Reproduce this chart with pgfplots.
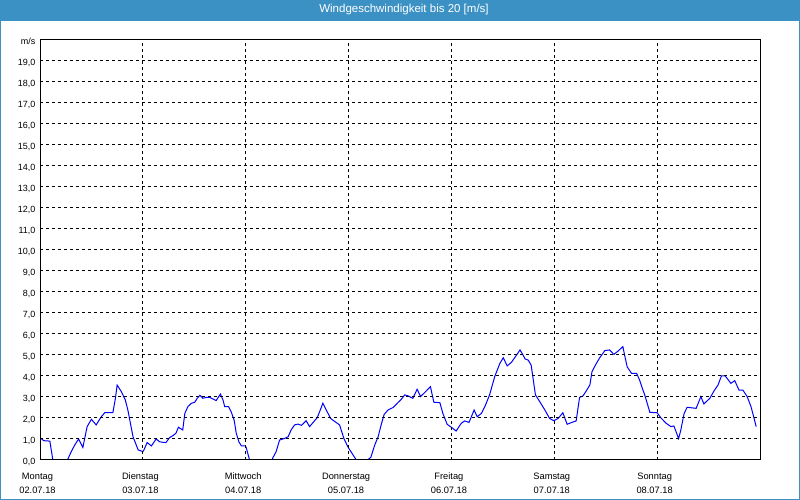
\documentclass[border=0pt]{standalone}
\usepackage{fontspec}
\setmainfont{Liberation Sans}
\usepackage{pgfplots}
\pgfplotsset{compat=1.18}
\definecolor{barblue}{RGB}{59,145,196}
\definecolor{windblue}{RGB}{0,0,255}

\begin{document}
\begin{tikzpicture}
\fill[white] (0,0) rectangle (800pt,500pt);
\fill[barblue] (0,479pt) rectangle (800pt,500pt);
\draw[barblue, line width=1pt] (0.5pt,500pt) -- (0.5pt,0.5pt) -- (799.5pt,0.5pt) -- (799.5pt,500pt);
\node[white, font=\fontsize{11.5}{13}\selectfont] at (404pt,490pt) {Windgeschwindigkeit bis 20 [m/s]};
\begin{axis}[
    at={(40pt,40pt)}, anchor=south west,
    width=720pt, height=420pt, scale only axis,
    xmin=0, xmax=168, ymin=0, ymax=20,
    axis on top,
    axis line style={black, line width=1pt},
    major tick length=0pt,
    xtick={0,24,...,144},
    xticklabels={{Montag\\02.07.18},{Dienstag\\03.07.18},{Mittwoch\\04.07.18},
      {Donnerstag\\05.07.18},{Freitag\\06.07.18},{Samstag\\07.07.18},{Sonntag\\08.07.18}},
    xticklabel style={align=center, font=\fontsize{9.3}{14}\selectfont, xshift=-2.5pt, yshift=-9.5pt},
    ytick={0,1,...,20},
    yticklabels={{0,0},{1,0},{2,0},{3,0},{4,0},{5,0},{6,0},{7,0},{8,0},{9,0},{10,0},
      {11,0},{12,0},{13,0},{14,0},{15,0},{16,0},{17,0},{18,0},{19,0},{\raisebox{-3pt}{m/s}}},
    yticklabel style={font=\fontsize{9}{10}\selectfont, xshift=-1pt, yshift=-1.5pt},
    grid=major,
    major grid style={black, line width=1pt, dash pattern=on 3pt off 3pt},
]
\addplot[windblue, line width=1pt] table {
0.2 1.03
0.9 0.92
2.3 0.90
3.0 0
6.4 0
7.3 0.40
8.1 0.71
9.0 1.00
10.0 0.60
11.0 1.59
12.0 1.94
13.1 1.67
14.3 2.06
15.1 2.25
17.0 2.25
17.6 2.94
18.0 3.57
19.0 3.25
19.9 2.86
20.5 2.38
21.7 1.11
22.9 0.48
24.0 0.40
24.3 0.50
25.0 0.83
26.0 0.67
27.1 1.00
27.9 0.87
28.7 0.84
29.4 0.83
30.2 1.06
31.0 1.16
31.7 1.27
32.3 1.56
33.3 1.43
33.8 2.22
34.5 2.54
35.3 2.70
36.1 2.75
36.7 2.94
37.3 3.08
38.0 2.94
38.8 2.98
39.6 2.98
40.4 2.90
41.1 2.83
42.1 3.14
42.7 2.86
43.1 2.54
44.0 2.54
44.6 2.30
45.3 1.90
45.8 1.27
46.4 0.87
47.0 0.67
47.9 0.67
48.1 0.60
48.9 0
54.1 0
54.4 0.13
55.1 0.40
55.9 0.95
57.1 1.03
57.9 1.11
58.6 1.43
59.4 1.67
60.2 1.71
61.0 1.65
62.1 1.87
62.9 1.59
63.7 1.78
64.7 2.02
65.4 2.38
66.0 2.70
66.8 2.38
67.8 1.98
68.8 1.83
69.9 1.67
70.9 1.03
71.9 0.60
72.8 0.32
73.8 0
76.4 0
77.2 0.13
78.1 0.71
78.9 1.11
79.6 1.67
80.3 2.17
81.2 2.38
82.4 2.50
83.5 2.73
84.3 2.89
85.1 3.10
85.9 3.05
87.0 2.94
88.0 3.37
88.8 3.02
89.8 3.22
91.1 3.49
91.9 2.75
93.3 2.73
94.0 2.22
95.0 1.70
96.1 1.54
97.1 1.38
98.3 1.75
99.1 1.86
100.1 1.79
101.3 2.38
102.0 2.06
103.0 2.22
103.9 2.59
104.9 3.10
106.1 3.97
107.3 4.60
108.1 4.87
109.0 4.48
110.0 4.65
111.1 4.97
112.0 5.24
112.7 5.00
113.2 4.81
113.9 4.76
114.6 4.52
115.6 3.10
116.6 2.78
117.8 2.38
118.9 1.98
119.9 1.87
120.9 1.98
122.0 2.25
123.0 1.70
124.1 1.79
125.1 1.86
125.9 2.98
126.7 3.05
127.7 3.37
128.3 3.57
128.8 4.21
129.6 4.52
130.6 4.87
131.8 5.21
132.9 5.24
133.9 5.03
134.9 5.19
136.0 5.40
136.4 5.00
137.0 4.44
138.0 4.13
139.2 4.13
139.9 3.81
140.5 3.44
141.1 3.10
142.3 2.27
144.0 2.25
144.9 2.00
146.1 1.75
147.2 1.59
147.9 1.62
148.5 1.30
149.0 1.02
149.5 1.40
150.3 2.22
151.0 2.51
153.1 2.46
154.2 3.02
154.9 2.67
156.3 2.94
157.3 3.30
158.2 3.57
159.0 4.00
159.9 4.00
161.2 3.65
162.1 3.78
163.1 3.33
164.0 3.33
165.0 3.02
165.9 2.54
166.6 2.00
167.1 1.59
};
\end{axis}
\pgfresetboundingbox
\useasboundingbox (0,0) rectangle (800pt,500pt);
\end{tikzpicture}
\end{document}
